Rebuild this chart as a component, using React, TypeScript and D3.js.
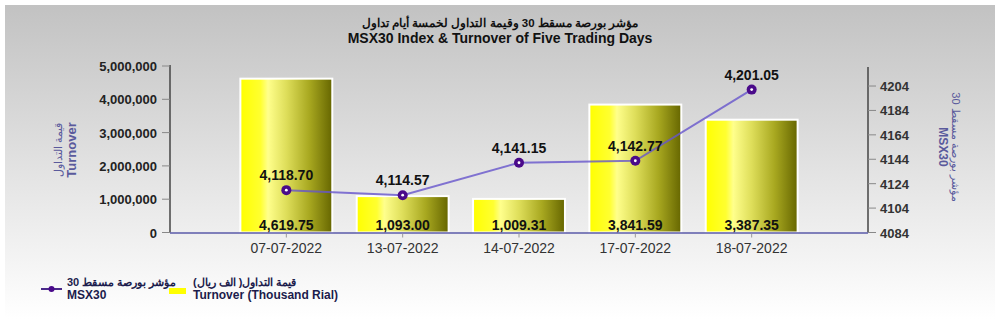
import React from "react";
import * as d3 from "d3";

const dates = ["07-07-2022", "13-07-2022", "14-07-2022", "17-07-2022", "18-07-2022"];
const turnover = [4619.75, 1093.0, 1009.31, 3841.59, 3387.35];
const msx30 = [4118.7, 4114.57, 4141.15, 4142.77, 4201.05];
const leftTicks = [0, 1000000, 2000000, 3000000, 4000000, 5000000];
const rightTicks = [4084, 4104, 4124, 4144, 4164, 4184, 4204];

const W = 1000;
const H = 319;
const FONT = "'Liberation Sans', Arial, Helvetica, sans-serif";

export default function App() {
  const x0 = 170;
  const x1 = 868;
  const yBottom = 232.5;
  const yTop = 66;

  const x = d3.scalePoint<string>().domain(dates).range([x0, x1]).padding(1);
  const yL = d3.scaleLinear().domain([0, 5000000]).range([yBottom, yTop]);
  const yR = d3.scaleLinear().domain([4084, 4220.4]).range([yBottom, yTop]);
  const barW = x.step() * 0.79;
  const fmt2 = d3.format(",.2f");
  const fmt0 = d3.format(",");

  const line = d3
    .line<number>()
    .x((_, i) => x(dates[i]) as number)
    .y((d) => yR(d));

  return (
    <svg
      width={W}
      height={H}
      style={{ position: "absolute", left: 0, top: 0, fontFamily: FONT }}
    >
      <defs>
        <linearGradient id="bg" x1="0" y1="0" x2="0" y2="1">
          <stop offset="0%" stopColor="#c2c2c2" />
          <stop offset="55%" stopColor="#e4e4e4" />
          <stop offset="100%" stopColor="#ffffff" />
        </linearGradient>
        <linearGradient id="bar" x1="0" y1="0" x2="1" y2="0">
          <stop offset="0%" stopColor="#ffff00" />
          <stop offset="22%" stopColor="#ffff30" />
          <stop offset="30%" stopColor="#ffff8c" />
          <stop offset="50%" stopColor="#dede5a" />
          <stop offset="75%" stopColor="#a8a820" />
          <stop offset="100%" stopColor="#666600" />
        </linearGradient>
      </defs>
      <rect x={0} y={0} width={W} height={H} fill="#ffffff" />
      <rect x={5} y={5} width={W - 10} height={H - 5} fill="url(#bg)" />

      {/* Title */}
      <text x={500} y={27} textAnchor="middle" fontSize={11.5} fontWeight="bold" fill="#111">
        مؤشر بورصة مسقط 30 وقيمة التداول لخمسة أيام تداول
      </text>
      <text x={500} y={43} textAnchor="middle" fontSize={14} fontWeight="bold" fill="#111">
        MSX30 Index &amp; Turnover of Five Trading Days
      </text>

      {/* Bars */}
      {turnover.map((v, i) => {
        const cx = x(dates[i]) as number;
        return (
          <rect
            key={"b" + i}
            x={cx - barW / 2}
            y={yL(v * 1000)}
            width={barW}
            height={yBottom - yL(v * 1000)}
            fill="url(#bar)"
            stroke="#ffffff"
            strokeWidth={2}
          />
        );
      })}

      {/* Bar labels */}
      {turnover.map((v, i) => (
        <text
          key={"bl" + i}
          x={x(dates[i]) as number}
          y={yBottom - 3}
          textAnchor="middle"
          fontSize={14}
          fontWeight="bold"
          fill="#111"
        >
          {fmt2(v)}
        </text>
      ))}

      {/* Left axis */}
      <line x1={x0} x2={x0} y1={yTop - 1} y2={yBottom} stroke="#444" strokeWidth={1.5} />
      {leftTicks.map((t) => (
        <g key={"lt" + t}>
          <line x1={x0 - 8} x2={x0} y1={yL(t)} y2={yL(t)} stroke="#888" strokeWidth={1} />
          <text
            x={x0 - 13}
            y={yL(t) + 5}
            textAnchor="end"
            fontSize={13}
            fontWeight="bold"
            fill="#222"
          >
            {fmt0(t)}
          </text>
        </g>
      ))}
      <g transform={`translate(64,150) rotate(-90)`}>
        <text x={0} y={-2} textAnchor="middle" fontSize={11} fill="#5a5a9c">
          قيمة التداول
        </text>
        <text x={0} y={12} textAnchor="middle" fontSize={13} fontWeight="bold" fill="#5a5a9c">
          Turnover
        </text>
      </g>

      {/* Right axis */}
      <line x1={x1} x2={x1} y1={yTop + 1} y2={yBottom} stroke="#444" strokeWidth={1.5} />
      {rightTicks.map((t) => (
        <g key={"rt" + t}>
          <line x1={x1} x2={x1 + 8} y1={yR(t)} y2={yR(t)} stroke="#888" strokeWidth={1} />
          <text x={x1 + 12} y={yR(t) + 5} fontSize={13} fontWeight="bold" fill="#333">
            {t}
          </text>
        </g>
      ))}
      <g transform={`translate(950,147) rotate(90)`}>
        <text x={0} y={-2} textAnchor="middle" fontSize={11} fill="#5a5a9c">
          مؤشر بورصة مسقط 30
        </text>
        <text x={0} y={11} textAnchor="middle" fontSize={12} fontWeight="bold" fill="#5a5a9c">
          MSX30
        </text>
      </g>

      {/* X axis */}
      <line x1={x0} x2={x1} y1={yBottom + 0.5} y2={yBottom + 0.5} stroke="#5a5aa8" strokeWidth={1.5} />
      {dates.map((d) => (
        <g key={"xt" + d}>
          <line
            x1={x(d) as number}
            x2={x(d) as number}
            y1={yBottom + 1}
            y2={yBottom + 5}
            stroke="#999"
          />
          <text x={x(d) as number} y={253} textAnchor="middle" fontSize={14} fill="#333">
            {d}
          </text>
        </g>
      ))}

      {/* Line */}
      <path d={line(msx30) || ""} fill="none" stroke="#6655cc" strokeOpacity={0.8} strokeWidth={2} />
      {msx30.map((v, i) => (
        <circle
          key={"p" + i}
          cx={x(dates[i]) as number}
          cy={yR(v)}
          r={5}
          fill="#4a0a8a"
        />
      ))}
      {msx30.map((v, i) => (
        <circle key={"pc" + i} cx={x(dates[i]) as number} cy={yR(v)} r={1.4} fill="#ffffff" />
      ))}
      {msx30.map((v, i) => (
        <text
          key={"pl" + i}
          x={x(dates[i]) as number}
          y={yR(v) - 10}
          textAnchor="middle"
          fontSize={14}
          fontWeight="bold"
          fill="#111"
        >
          {fmt2(v)}
        </text>
      ))}

      {/* Legend */}
      <line x1={41} x2={62} y1={289} y2={289} stroke="#4a2a8a" strokeWidth={2} />
      <circle cx={51.5} cy={289} r={3} fill="#4a0a8a" />
      <text x={67} y={286} fontSize={11} fontWeight="bold" fill="#1c1c4c">
        <tspan>مؤشر بورصة مسقط 30</tspan>
      </text>
      <text x={67} y={299} fontSize={12} fontWeight="bold" fill="#1c1c4c">
        MSX30
      </text>
      <rect x={169} y={288} width={17} height={6} fill="#ffff00" />
      <text x={193} y={286} fontSize={11} fontWeight="bold" fill="#1c1c4c">
        قيمة التداول( الف ريال)
      </text>
      <text x={193} y={299} fontSize={12} fontWeight="bold" fill="#1c1c4c">
        Turnover (Thousand Rial)
      </text>
    </svg>
  );
}
